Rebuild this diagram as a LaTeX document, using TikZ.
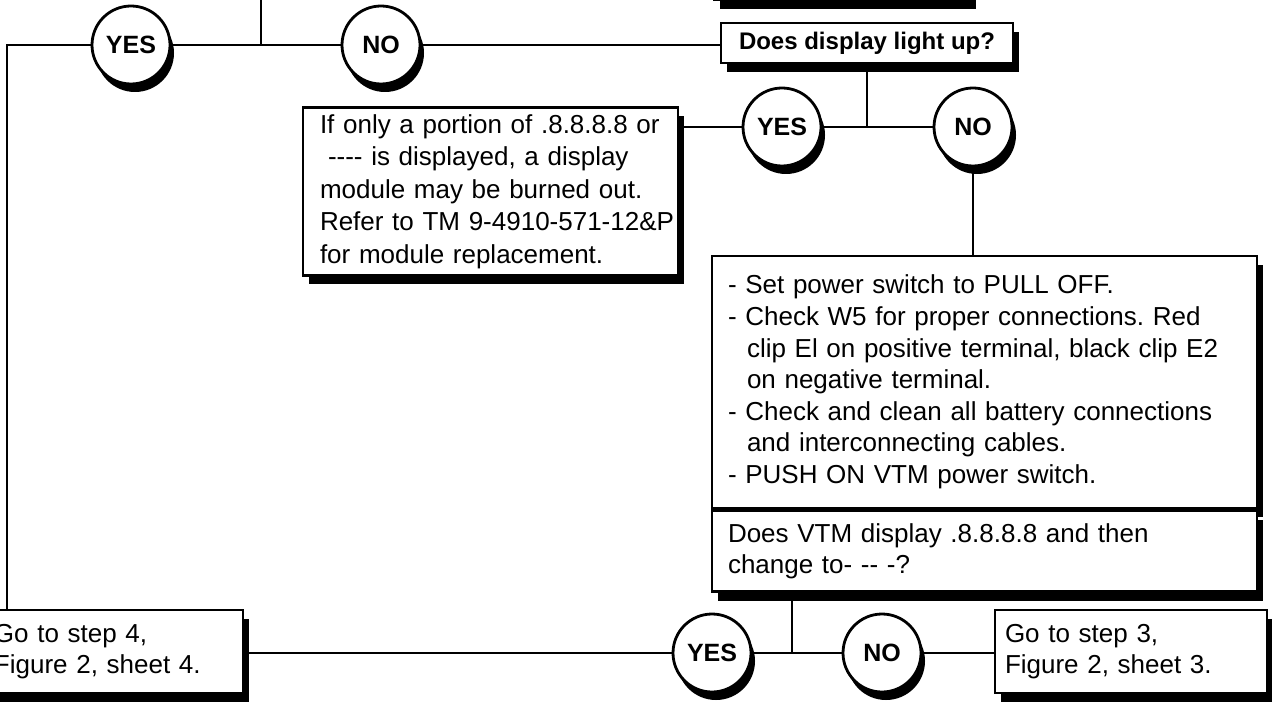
\documentclass[tikz,border=0pt]{standalone}
\usepackage{fontspec}
\setmainfont{Liberation Sans}
\usepackage{xcolor}
\definecolor{cInk}{HTML}{000000}
\usetikzlibrary{positioning,shadows}
\tikzset{
  node-box/.style={draw=cInk,line width=1.4pt,fill=white,align=left,
    font=\fontsize{13}{15.8}\selectfont\frenchspacing,inner ysep=0pt,
    drop shadow={opacity=1,fill=cInk,shadow xshift=3pt,shadow yshift=-4.5pt}},
  node-q/.style={node-box,align=center,font=\fontsize{12}{14}\selectfont\bfseries},
  node-yes/.style={draw=cInk,line width=1.4pt,fill=white,circle,
    minimum size=39pt,inner sep=0pt,font=\fontsize{12.5}{14}\selectfont\bfseries,
    drop shadow={opacity=1,fill=cInk,shadow xshift=2pt,shadow yshift=-4pt}},
  link/.style={line width=1.4pt,draw=cInk},
}

\begin{document}
\begin{tikzpicture}[x=0.5pt,y=-0.5pt]
  \useasboundingbox (0,0) rectangle (1272,705);
  % step above, cut off by the page edge
  \node[node-box,minimum width=128pt,minimum height=20pt] (prevq) at (842,-20) {};
  \node[node-q,minimum width=146pt,minimum height=20pt] (dbox) at (867,43) {Does display light up?};
  \node[node-yes] (yes1) at (131,45) {YES};
  \node[node-yes] (no1) at (381,45) {NO};
  \node[node-yes] (yes2) at (782,127) {YES};
  \node[node-yes] (no2) at (973,127) {NO};
  \node[node-box,text width=170.5pt,inner xsep=8.5pt,minimum height=84pt,
    font=\fontsize{13}{16.2}\selectfont\frenchspacing] (ibox) at (490.5,191.5)
    {If only a portion of .8.8.8.8 or\\
     \hspace*{4pt}-{}-{}-{}- is displayed, a display\\
     module may be burned out.\\
     \mbox{Refer to TM 9-4910-571-12\&P}\\
     for module replacement.};
  \node[node-box,text width=256.5pt,inner xsep=8pt,minimum height=126pt] (bstep) at (984.5,382)
    {- Set power switch to PULL OFF.\\
     - Check W5 for proper connections. Red\\
     \hspace*{9.5pt}clip El on positive terminal, black clip E2\\
     \hspace*{9.5pt}on negative terminal.\\
     - Check and clean all battery connections\\
     \hspace*{9.5pt}and interconnecting cables.\\
     - PUSH ON VTM power switch.};
  \node[node-box,text width=256.5pt,inner xsep=8pt,minimum height=40.5pt,below=0pt of bstep] (bq)
    {Does VTM display .8.8.8.8 and then\\
     change to- -{}- -?};
  \node[node-yes] (yes3) at (712,653) {YES};
  \node[node-yes] (no3) at (882,653) {NO};
  \node[node-box,text width=121.5pt,inner xsep=3pt,minimum height=41.5pt] (go4) at (115.5,651.5)
    {Go to step 4,\\Figure 2, sheet 4.};
  \node[node-box,text width=126pt,inner xsep=5pt,minimum height=41.5pt] (go3) at (1131,651.5)
    {Go to step 3,\\Figure 2, sheet 3.};

  \coordinate (in-top) at (261,0);
  \coordinate (lt) at (7,45);
  \coordinate (j3) at (792,653);
  \draw[link] (in-top) -- (in-top |- yes1);
  \draw[link] (lt |- go4.north) -- (lt) -- (yes1);
  \draw[link] (yes1) -- (no1);
  \draw[link] (no1) -- (no1 -| dbox.west);
  \draw[link] (dbox) -- (dbox |- yes2);
  \draw[link] (ibox.east |- yes2) -- (yes2);
  \draw[link] (yes2) -- (no2);
  \draw[link] (no2) -- (bstep.north -| no2);
  \draw[link] (go4.east |- yes3) -- (yes3);
  \draw[link] (yes3) -- (no3);
  \draw[link] (no3) -- (no3 -| go3.west);
  \draw[link] (j3 |- bq.south) -- (j3);
\end{tikzpicture}
\end{document}
